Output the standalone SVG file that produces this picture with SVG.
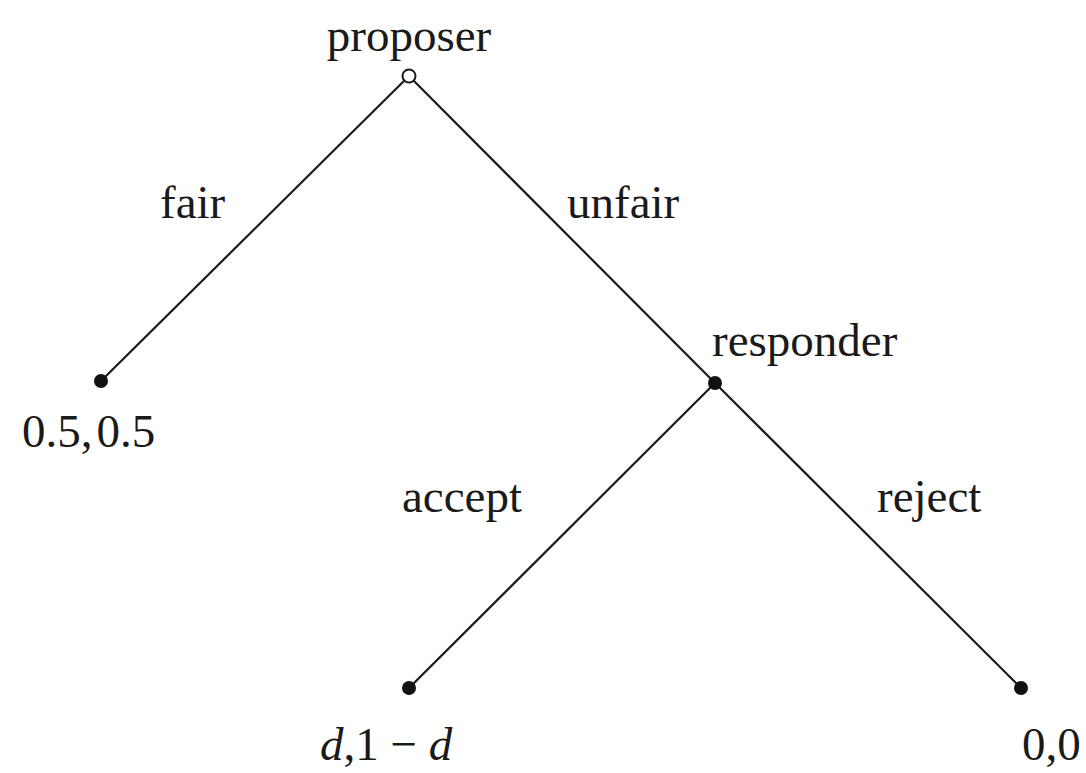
<svg xmlns="http://www.w3.org/2000/svg" width="1086" height="773" viewBox="0 0 1086 773">
<style>
text{font-family:"Liberation Serif","Times New Roman",serif;font-size:47px;fill:#1a1a1a}
.e{stroke:#1a1a1a;stroke-width:2.2;fill:none}
.dot{fill:#111}
</style>
<rect width="1086" height="773" fill="#fff"/>
<g id="connectors">
<line class="e" x1="409" y1="76" x2="101" y2="381"/>
<line class="e" x1="409" y1="76" x2="715" y2="383"/>
<line class="e" x1="715" y1="383" x2="409" y2="688"/>
<line class="e" x1="715" y1="383" x2="1021" y2="688"/>
<text x="160" y="218">fair</text>
<text x="567" y="218">unfair</text>
<text x="402" y="512">accept</text>
<text x="877" y="512">reject</text>
</g>
<g id="proposer">
<circle cx="409" cy="76" r="6.5" fill="#fff" stroke="#1a1a1a" stroke-width="2"/>
<text x="409" y="51" text-anchor="middle">proposer</text>
</g>
<g id="responder">
<circle class="dot" cx="715" cy="383" r="7"/>
<text x="712" y="356">responder</text>
</g>
<g id="leaf-fair">
<circle class="dot" cx="101" cy="381" r="7"/>
<text x="22" y="447">0.5,<tspan dx="4">0.5</tspan></text>
</g>
<g id="leaf-accept">
<circle class="dot" cx="409" cy="688" r="7"/>
<text x="320" y="760"><tspan font-style="italic">d</tspan>,1 − <tspan font-style="italic">d</tspan></text>
</g>
<g id="leaf-reject">
<circle class="dot" cx="1021" cy="688" r="7"/>
<text x="1022" y="760">0,0</text>
</g>
</svg>
